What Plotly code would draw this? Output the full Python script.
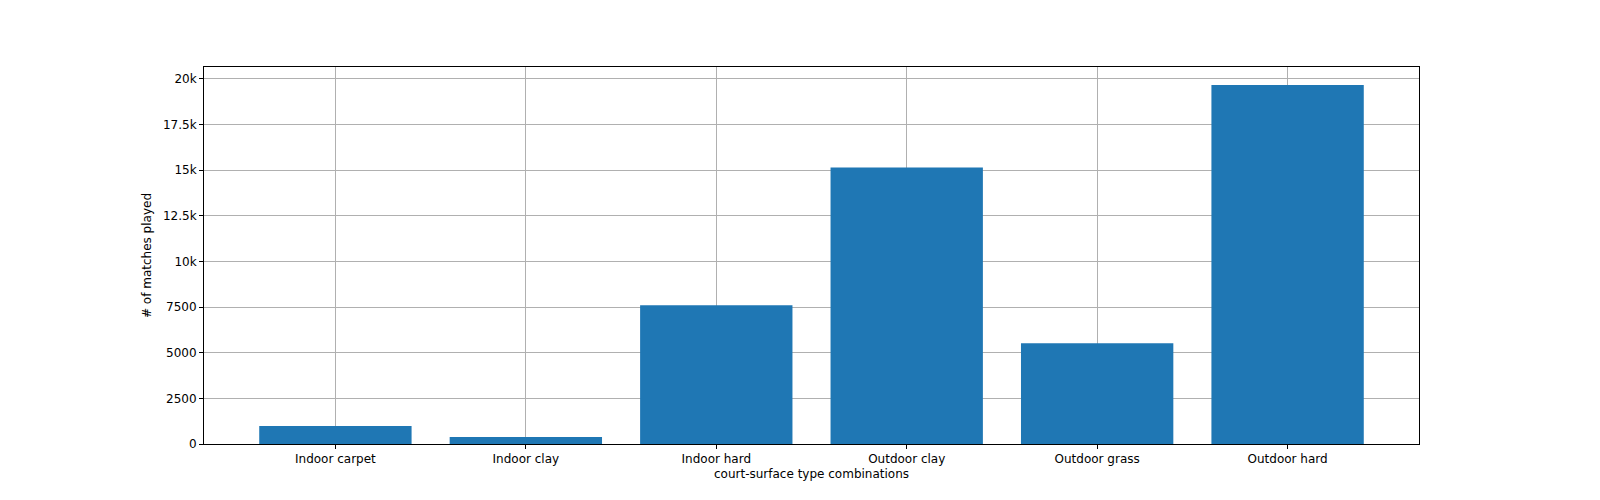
import plotly.graph_objects as go

surfaces = ["Indoor carpet", "Indoor clay", "Indoor hard", "Outdoor clay", "Outdoor grass", "Outdoor hard"]
matches = [980, 380, 7600, 15140, 5520, 19670]

pos = list(range(len(surfaces)))

fig = go.Figure()
fig.add_trace(go.Bar(x=pos, y=matches, width=0.8, marker_color="#1f77b4", marker_line_width=0))

axis_common = dict(showgrid=True, gridcolor="#b0b0b0", gridwidth=1, showline=True, linecolor="black",
                   mirror=True, ticks="outside", ticklen=4, tickcolor="black", zeroline=False,
                   layer="above traces", tickfont=dict(family="DejaVu Sans", size=12, color="black"))

fig.update_xaxes(range=[-0.69, 5.69], tickvals=pos, ticktext=surfaces,
                 title=dict(text="court-surface type combinations", font=dict(family="DejaVu Sans", size=12, color="black"), standoff=4),
                 **axis_common)
fig.update_yaxes(range=[0, 20650], tickvals=list(range(0, 20001, 2500)),
                 title=dict(text="# of matches played", font=dict(family="DejaVu Sans", size=12, color="black"), standoff=8),
                 **axis_common)

fig.update_layout(width=1600, height=500, plot_bgcolor="white", paper_bgcolor="white",
                  margin=dict(l=196, r=189, t=59, b=64), showlegend=False)

fig.write_html("out.html")
